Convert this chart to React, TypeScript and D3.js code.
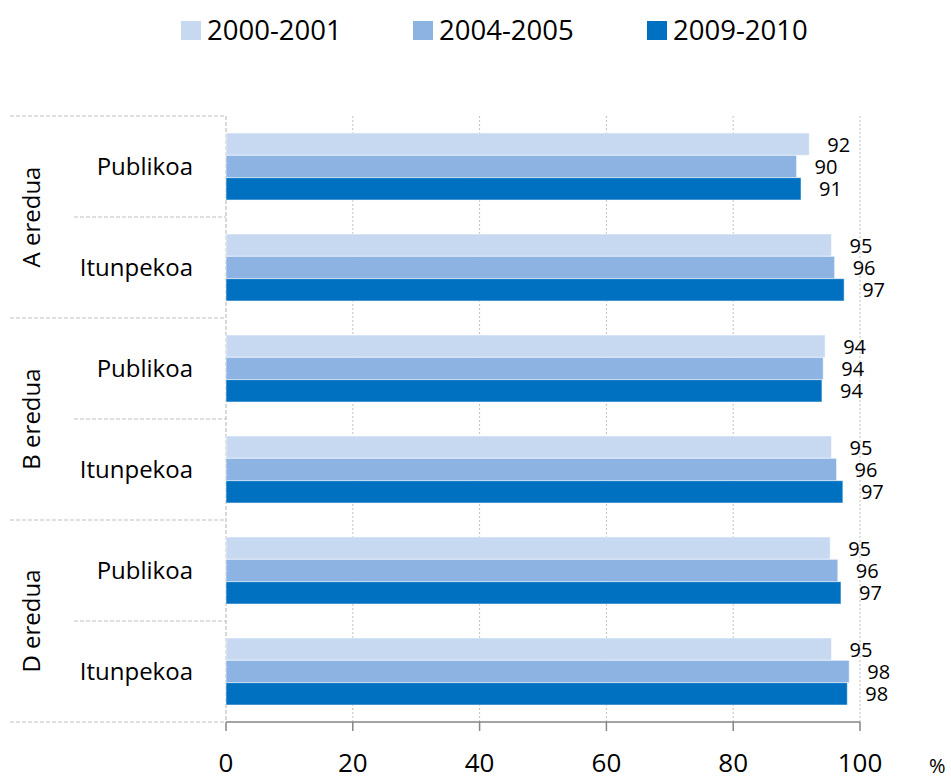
import React from "react";
import * as d3 from "d3";

const categories = [
  "A|Publikoa",
  "A|Itunpekoa",
  "B|Publikoa",
  "B|Itunpekoa",
  "D|Publikoa",
  "D|Itunpekoa",
];
const groups = ["A eredua", "B eredua", "D eredua"];
const seriesNames = ["2000-2001", "2004-2005", "2009-2010"];
const seriesColors = ["#c6d9f1", "#8db3e2", "#0070c0"];
const s2000 = [92.0, 95.5, 94.5, 95.5, 95.3, 95.5];
const s2004 = [90.0, 96.0, 94.2, 96.3, 96.5, 98.3];
const s2009 = [90.7, 97.5, 94.0, 97.3, 97.0, 98.0];
// printed labels
const l2000 = [92, 95, 94, 95, 95, 95];
const l2004 = [90, 96, 94, 96, 96, 98];
const l2009 = [91, 97, 94, 97, 97, 98];
const xTicks = [0, 20, 40, 60, 80, 100];

const values = [s2000, s2004, s2009];
const labels = [l2000, l2004, l2009];

const W = 951;
const H = 779;
const plotLeft = 226;
const plotRight = 860;
const plotTop = 116;
const plotBottom = 722;
const FONT = "'Open Sans', 'DejaVu Sans', sans-serif";

export default function App() {
  const x = d3.scaleLinear().domain([0, 100]).range([plotLeft, plotRight]);
  const y = d3.scaleBand<string>().domain(categories).range([plotTop, plotBottom]).padding(0);
  const inner = d3
    .scaleBand<string>()
    .domain(seriesNames)
    .range([0, y.bandwidth()])
    .paddingInner(0)
    .paddingOuter(0.76);
  const groupScale = d3.scaleBand<string>().domain(groups).range([plotTop, plotBottom]).padding(0);

  const legendX = [181, 413, 647];

  return (
    <svg
      width={W}
      height={H}
      style={{ position: "absolute", left: 0, top: 0, background: "#fff" }}
      fontFamily={FONT}
    >
      {/* legend */}
      {seriesNames.map((s, i) => (
        <g key={s}>
          <rect x={legendX[i]} y={21} width={20} height={19} fill={seriesColors[i]} />
          <text x={legendX[i] + 26} y={40} fontSize={27.5} fill="#000">
            {s}
          </text>
        </g>
      ))}

      {/* gridlines */}
      {xTicks.slice(1).map((t) => (
        <line
          key={t}
          x1={x(t)}
          x2={x(t)}
          y1={plotTop}
          y2={plotBottom}
          stroke="#bfbfbf"
          strokeWidth={1}
          strokeDasharray="2,2"
        />
      ))}

      {/* category separators */}
      {d3.range(categories.length + 1).map((i) => {
        const yy = plotTop + i * y.step();
        const isGroup = i % 2 === 0;
        return (
          <line
            key={i}
            x1={isGroup ? 10 : 74}
            x2={plotLeft}
            y1={yy}
            y2={yy}
            stroke="#bfbfbf"
            strokeWidth={1.2}
            strokeDasharray="4,2"
          />
        );
      })}

      {/* y axis line */}
      <line
        x1={plotLeft}
        x2={plotLeft}
        y1={plotTop}
        y2={plotBottom}
        stroke="#bfbfbf"
        strokeWidth={1.2}
        strokeDasharray="4,2"
      />

      {/* bars */}
      {categories.map((c, ci) =>
        seriesNames.map((s, si) => {
          const v = values[si][ci];
          const by = (y(c) as number) + (inner(s) as number);
          const bh = inner.bandwidth();
          return (
            <g key={c + s}>
              <rect
                x={x(0)}
                y={by}
                width={x(v) - x(0)}
                height={bh}
                fill={seriesColors[si]}
                stroke="rgba(255,255,255,0.55)"
                strokeWidth={1}
              />
              <text
                x={x(v) + 18}
                y={by + bh / 2}
                dy="0.37em"
                fontSize={20}
                fill="#000"
              >
                {labels[si][ci]}
              </text>
            </g>
          );
        })
      )}

      {/* category labels */}
      {categories.map((c) => (
        <text
          key={c}
          x={193}
          y={(y(c) as number) + y.bandwidth() / 2}
          dy="0.35em"
          textAnchor="end"
          fontSize={24}
          fill="#000"
        >
          {c.split("|")[1]}
        </text>
      ))}

      {/* group labels */}
      {groups.map((g) => (
        <text
          key={g}
          transform={`translate(40,${(groupScale(g) as number) + groupScale.bandwidth() / 2}) rotate(-90)`}
          textAnchor="middle"
          fontSize={24}
          fill="#000"
        >
          {g}
        </text>
      ))}

      {/* x axis */}
      <line x1={plotLeft} x2={plotRight} y1={plotBottom} y2={plotBottom} stroke="#868686" strokeWidth={1.5} />
      {xTicks.map((t) => (
        <g key={t}>
          <line x1={x(t)} x2={x(t)} y1={plotBottom} y2={plotBottom + 9} stroke="#868686" strokeWidth={1.5} />
          <text x={x(t)} y={772} textAnchor="middle" fontSize={26} fill="#000">
            {t}
          </text>
        </g>
      ))}
      <text x={929} y={773} fontSize={20} fill="#000">
        %
      </text>
    </svg>
  );
}
